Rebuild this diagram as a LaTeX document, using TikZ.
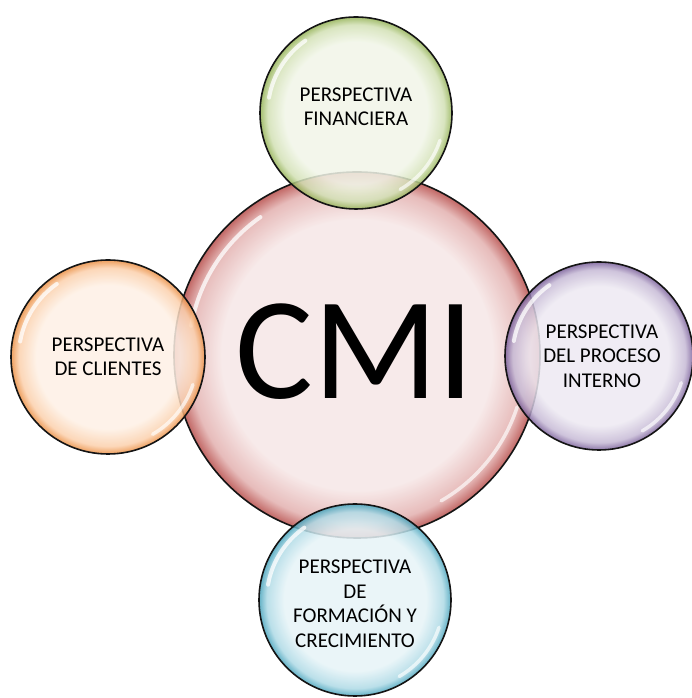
\documentclass[tikz,border=0pt]{standalone}
\usepackage{fontspec}
\setmainfont{Carlito}
\usetikzlibrary{calc}
\definecolor{Ink}{HTML}{141414}
\definecolor{CoreRed}{HTML}{C0504D}
\definecolor{LeafGreen}{HTML}{9BBB59}
\definecolor{Amber}{HTML}{F79646}
\definecolor{Lilac}{HTML}{8064A2}
\definecolor{Aqua}{HTML}{4BACC6}
\colorlet{bubin}{white}
\colorlet{bubmid}{white}
\colorlet{bubrim}{white}
% 25bp is the rim of the circle once the shading is fitted to it
\pgfdeclareradialshading[bubin,bubmid,bubrim]{bubble}{\pgfpoint{0bp}{0bp}}{%
  color(0bp)=(bubin); color(18.5bp)=(bubin); color(23bp)=(bubmid);
  color(25bp)=(bubrim); color(50bp)=(bubrim)}
\newcommand{\perspfont}{\fontsize{21}{24.5}\selectfont}
\newcommand{\drawgloss}[2]{%
  \draw[white,opacity=0.75,line width=4pt,line cap=round]
    ([shift={(125:{0.92*#2})}]#1.center)
    arc[start angle=125,end angle=170,radius={0.92*#2}];
  \draw[white,opacity=0.65,line width=3.5pt,line cap=round]
    ([shift={(-18:{0.92*#2})}]#1.center)
    arc[start angle=-18,end angle=-60,radius={0.92*#2}];
}

\begin{document}
\begin{tikzpicture}[x=1pt,y=1pt,line cap=round,line join=round,
    bubble/.style={circle,draw=Ink,line width=1.6pt,inner sep=0pt,
      fill opacity=0.85,
      /utils/exec={\colorlet{bubrim}{#1!95!black}%
        \colorlet{bubmid}{#1!45!white}\colorlet{bubin}{#1!14!white}},
      shade,shading=bubble},
    persp/.style={align=center,font=\perspfont,inner sep=0pt}]
  \useasboundingbox (0,0) rectangle (692,698);

  \node[bubble=CoreRed,minimum size=366] (cmi) at (357,343) {};
  \drawgloss{cmi}{183}
  \node[font=\fontsize{146}{146}\selectfont] (cmi-txt) at (355,346) {CMI};

  \node[bubble=LeafGreen,minimum size=192] (fin) at (356,585) {};
  \drawgloss{fin}{96}
  \node[persp] (fin-txt) at ([yshift=6]fin.center) {PERSPECTIVA\\FINANCIERA};

  \node[bubble=Amber,minimum size=194] (cli) at (108,341) {};
  \drawgloss{cli}{97}
  \node[persp] (cli-txt) at (cli.center) {PERSPECTIVA\\DE CLIENTES};

  \node[bubble=Lilac,minimum size=188] (pro) at (599,342) {};
  \drawgloss{pro}{94}
  \node[persp] (pro-txt) at ([xshift=3]pro.center)
    {PERSPECTIVA\\DEL PROCESO\\INTERNO};

  \node[bubble=Aqua,minimum size=192] (for) at (355,98) {};
  \drawgloss{for}{96}
  \node[persp] (for-txt) at ([yshift=-4]for.center)
    {PERSPECTIVA\\DE\\FORMACIÓN Y\\CRECIMIENTO};
\end{tikzpicture}
\end{document}
